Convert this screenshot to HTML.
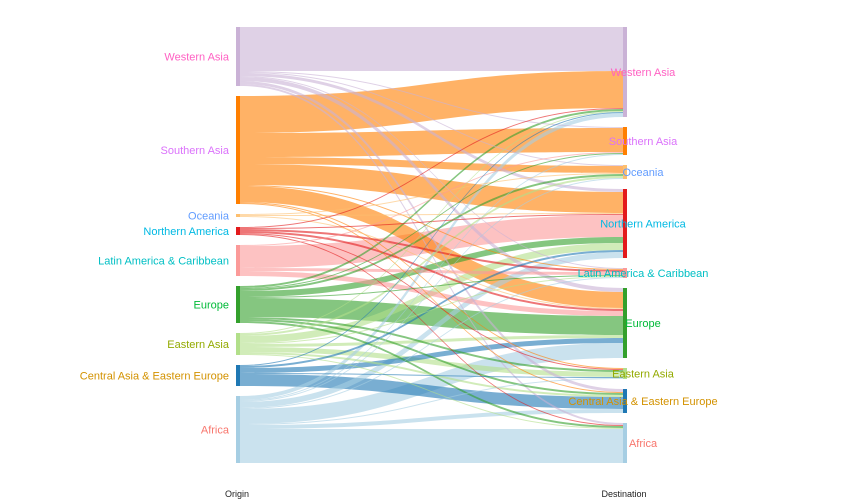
<!DOCTYPE html>
<html><head><meta charset="utf-8"><style>
html,body{margin:0;padding:0;background:#fff;}
svg{display:block;font-family:"Liberation Sans",Arial,sans-serif;}
</style></head><body>
<svg id="s" width="864" height="504" xmlns="http://www.w3.org/2000/svg"></svg>
<script>
(function(){
var names=["Western Asia","Southern Asia","Oceania","Northern America","Latin America & Caribbean","Europe","Eastern Asia","Central Asia & Eastern Europe","Africa"];
var col=["#cab2d6","#ff7f00","#fdbf6f","#e31a1c","#fb9a99","#33a02c","#b2df8a","#1f78b4","#a6cee3"];
var lab=["#ff61c3","#db72fb","#619cff","#00b9e3","#00bfc4","#00ba38","#93aa00","#d39200","#f8766d"];
var F=[
[44,1,1,3,1,4,0,3,2],
[37,24,7,21,1,16,1,1,0],
[0,0,1,1,0,1,0,0,0],
[1,0,0,1,2,2,1,0,1],
[0,1,0,22,3,5,0,0,0],
[2,1,2,6,1,19,2,2,2],
[1,0,2,7,1,3,5,2,1],
[1,0,0,2,0,5,1,12,0],
[4,1,1,6,1,15,1,4,34]];
var n=9,gap=10,yStart=27;
var oy=[],dy=[],y=yStart,i,j,t;
for(i=0;i<n;i++){t=0;for(j=0;j<n;j++)t+=F[i][j];oy.push([y,t]);y+=t+gap;}
y=yStart;
for(j=0;j<n;j++){t=0;for(i=0;i<n;i++)t+=F[i][j];dy.push([y,t]);y+=t+gap;}
var h="";
var x0=240,x1=623,xm=(x0+x1)/2;
var flows=[];
for(i=0;i<n;i++)for(j=0;j<n;j++){if(F[i][j])flows.push([i,j,F[i][j]]);}
var os=oy.map(function(a){return a[0];}),ds=dy.map(function(a){return a[0];});
var pos={};
for(i=0;i<n;i++)for(j=0;j<n;j++){if(F[i][j]){pos[i+"_"+j]=[os[i],0];os[i]+=F[i][j];}}
for(j=0;j<n;j++)for(i=0;i<n;i++){if(F[i][j]){pos[i+"_"+j][1]=ds[j];ds[j]+=F[i][j];}}
flows.sort(function(a,b){return b[2]-a[2];});
flows.forEach(function(f){var i=f[0],j=f[1],v=f[2],p=pos[i+"_"+j];var a=p[0],b=p[1];
 h+='<path d="M'+x0+','+a+'C'+xm+','+a+' '+xm+','+b+' '+x1+','+b+'L'+x1+','+(b+v)+'C'+xm+','+(b+v)+' '+xm+','+(a+v)+' '+x0+','+(a+v)+'Z" fill="'+col[i]+'" fill-opacity="0.6"/>';});
for(i=0;i<n;i++){
 h+='<rect x="236" y="'+oy[i][0]+'" width="4" height="'+oy[i][1]+'" fill="'+col[i]+'"/>';
 h+='<text x="229" y="'+(oy[i][0]+oy[i][1]/2+4)+'" text-anchor="end" font-size="11" fill="'+lab[i]+'">'+names[i].replace("&","&amp;")+'</text>';
}
for(j=0;j<n;j++){
 h+='<rect x="623" y="'+dy[j][0]+'" width="4" height="'+dy[j][1]+'" fill="'+col[j]+'"/>';
 h+='<text x="643" y="'+(dy[j][0]+dy[j][1]/2+4)+'" text-anchor="middle" font-size="11" fill="'+lab[j]+'">'+names[j].replace("&","&amp;")+'</text>';
}
h+='<text x="237" y="497" text-anchor="middle" font-size="9" fill="#222">Origin</text>';
h+='<text x="624" y="497" text-anchor="middle" font-size="9" fill="#222">Destination</text>';
document.getElementById("s").innerHTML=h;
})();
</script>
</body></html>
